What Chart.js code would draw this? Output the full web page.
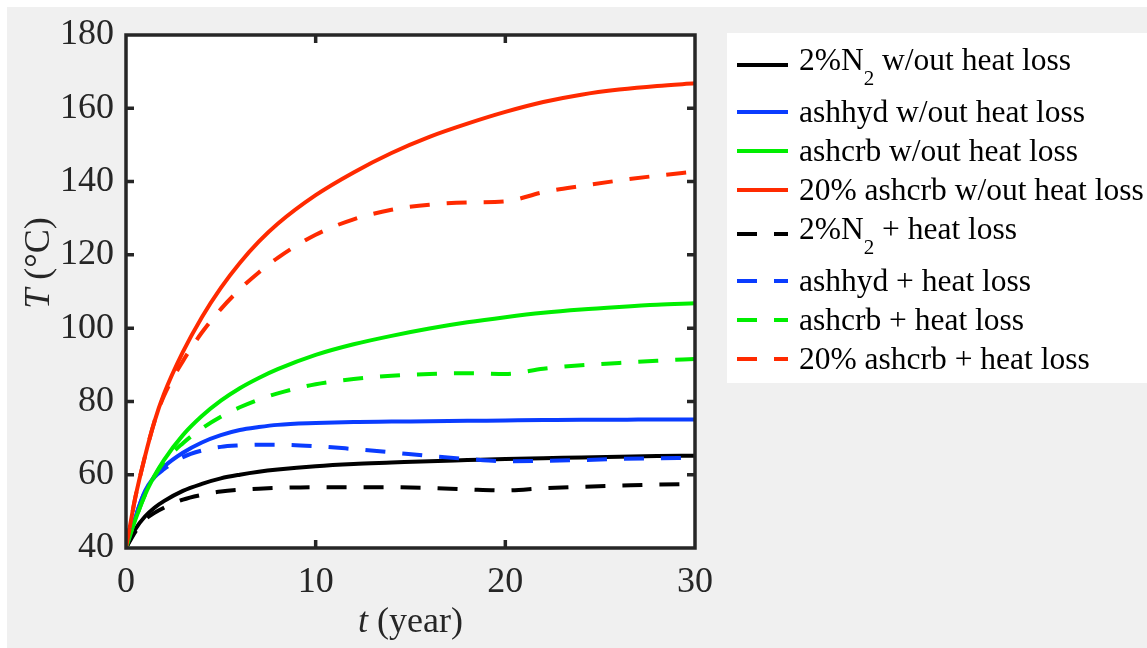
<!DOCTYPE html>
<html>
<head>
<meta charset="utf-8">
<title>Temperature history</title>
<script src="https://cdn.jsdelivr.net/npm/chart.js@4.4.1/dist/chart.umd.min.js"></script>
<style>
  html, body { margin: 0; padding: 0; background: #fff; }
  #wrap { width: 1147px; height: 648px; }
</style>
</head>
<body>
<div id="wrap"><canvas id="tempChart" width="1147" height="648"></canvas></div>
<script>
// time in years, temperatures in °C
var years = [0, 0.5, 1, 1.5, 2, 3, 4, 5, 6, 7, 8, 10, 12, 14, 16, 18, 20, 22, 24, 26, 28, 30];

var n2NoLoss       = [40, 45.2, 48.6, 51.0, 52.8, 55.6, 57.5, 59.0, 60.0, 60.8, 61.4, 62.3, 62.9, 63.3, 63.7, 64.0, 64.3, 64.5, 64.7, 64.9, 65.1, 65.2];
var ashhydNoLoss   = [40, 48.5, 55.5, 59.5, 62.2, 66.0, 68.8, 70.8, 72.2, 73.0, 73.6, 74.1, 74.4, 74.5, 74.6, 74.7, 74.8, 74.9, 75.0, 75.0, 75.1, 75.1];
var ashcrbNoLoss   = [40, 47.8, 54.5, 59.7, 64.0, 70.8, 76.0, 80.2, 83.6, 86.4, 88.8, 92.7, 95.6, 97.9, 99.9, 101.6, 103.0, 104.2, 105.1, 105.8, 106.4, 106.8];
var ashcrb20NoLoss = [40, 54, 65, 74.5, 82, 93.5, 103, 111, 117.8, 123.6, 128.5, 136.3, 142.5, 147.8, 152.2, 155.8, 159.0, 161.7, 163.7, 165.1, 166.1, 166.8];
var n2Loss         = [40, 44.5, 47.7, 49.6, 51.0, 53.2, 54.5, 55.4, 55.9, 56.2, 56.4, 56.6, 56.6, 56.6, 56.4, 56.0, 55.7, 56.3, 56.7, 57.0, 57.3, 57.5];
var ashhydLoss     = [40, 48.5, 55.3, 59.3, 61.5, 64.8, 66.6, 67.6, 68.0, 68.2, 68.2, 67.8, 67.0, 66.1, 65.1, 64.3, 63.7, 63.8, 64.0, 64.3, 64.5, 64.6];
var ashcrbLoss     = [40, 47.8, 54.5, 59.5, 63.5, 68.6, 72.6, 75.8, 78.4, 80.5, 82.2, 84.7, 86.1, 87.0, 87.5, 87.7, 87.5, 88.9, 89.9, 90.5, 91.1, 91.6];
var ashcrb20Loss   = [40, 54, 65, 74.5, 81.5, 91.0, 98.8, 105.2, 110.6, 115.2, 119.2, 125.5, 129.7, 132.3, 133.7, 134.3, 134.6, 137.1, 138.8, 140.3, 141.6, 142.7];

var seriesNames = [
  "2%N_2 w/out heat loss",
  "ashhyd w/out heat loss",
  "ashcrb w/out heat loss",
  "20% ashcrb w/out heat loss",
  "2%N_2 + heat loss",
  "ashhyd + heat loss",
  "ashcrb + heat loss",
  "20% ashcrb + heat loss"
];
var seriesValues = [n2NoLoss, ashhydNoLoss, ashcrbNoLoss, ashcrb20NoLoss, n2Loss, ashhydLoss, ashcrbLoss, ashcrb20Loss];

var xTitle = ["t", " (year)"];
var yTitle = ["T", " (°C)"];

var lineColors = ["#000000", "#0a3cff", "#00ee00", "#ff2a00"];
var dashPattern = [20, 17];
var axisColor = "#262626";
var serif = "'Liberation Serif', 'Times New Roman', serif";

Chart.defaults.font.family = serif;

var datasets = seriesValues.map(function(vals, i) {
  return {
    label: seriesNames[i],
    data: vals.map(function(v, j) { return { x: years[j], y: v }; }),
    borderColor: lineColors[i % 4],
    borderWidth: 4,
    borderDash: i >= 4 ? dashPattern : [],
    borderCapStyle: "butt",
    pointRadius: 0,
    cubicInterpolationMode: "monotone",
    fill: false,
    order: -i // later series sit on top
  };
});

// figure background, axes box with inward ticks, axis titles and legend
var figurePlugin = {
  id: "figure",
  beforeDraw: function(chart) {
    var ctx = chart.ctx, a = chart.chartArea;
    ctx.save();
    ctx.fillStyle = "#ffffff";
    ctx.fillRect(0, 0, chart.width, chart.height);
    ctx.fillStyle = "#f0f0f0";
    ctx.fillRect(7, 7, chart.width - 7, chart.height - 7);
    ctx.fillStyle = "#ffffff";
    ctx.fillRect(a.left, a.top, a.right - a.left, a.bottom - a.top);
    ctx.restore();
  },
  afterDatasetsDraw: function(chart) {
    var ctx = chart.ctx, a = chart.chartArea;
    var xs = chart.scales.x, ys = chart.scales.y;
    var tick = 8;
    ctx.save();
    ctx.strokeStyle = axisColor;
    ctx.lineWidth = 3.5;
    ctx.beginPath();
    xs.ticks.forEach(function(t) {
      if (t.value <= xs.min || t.value >= xs.max) return;
      var px = xs.getPixelForValue(t.value);
      ctx.moveTo(px, a.bottom); ctx.lineTo(px, a.bottom - tick);
      ctx.moveTo(px, a.top); ctx.lineTo(px, a.top + tick);
    });
    ys.ticks.forEach(function(t) {
      if (t.value <= ys.min || t.value >= ys.max) return;
      var py = ys.getPixelForValue(t.value);
      ctx.moveTo(a.left, py); ctx.lineTo(a.left + tick, py);
      ctx.moveTo(a.right, py); ctx.lineTo(a.right - tick, py);
    });
    ctx.stroke();
    ctx.lineJoin = "miter";
    ctx.strokeRect(a.left, a.top, a.right - a.left, a.bottom - a.top);
    ctx.restore();
  },
  afterDraw: function(chart) {
    var ctx = chart.ctx, a = chart.chartArea;
    ctx.save();
    ctx.fillStyle = axisColor;
    ctx.textBaseline = "alphabetic";
    ctx.textAlign = "left";

    // x title: italic symbol then plain units
    var italic = "italic 36px " + serif, plain = "36px " + serif;
    ctx.font = italic; var w0 = ctx.measureText(xTitle[0]).width;
    ctx.font = plain; var w1 = ctx.measureText(xTitle[1]).width;
    var x0 = (a.left + a.right) / 2 - (w0 + w1) / 2;
    ctx.font = italic; ctx.fillText(xTitle[0], x0, 632);
    ctx.font = plain; ctx.fillText(xTitle[1], x0 + w0, 632);

    // y title, rotated
    ctx.font = italic; w0 = ctx.measureText(yTitle[0]).width;
    ctx.font = plain; w1 = ctx.measureText(yTitle[1]).width;
    ctx.translate(49, 263);
    ctx.rotate(-Math.PI / 2);
    ctx.font = italic; ctx.fillText(yTitle[0], -(w0 + w1) / 2, 0);
    ctx.font = plain; ctx.fillText(yTitle[1], -(w0 + w1) / 2 + w0, 0);
    ctx.setTransform(1, 0, 0, 1, 0, 0);

    // legend
    ctx.fillStyle = "#ffffff";
    ctx.fillRect(727, 33, chart.width - 727, 350);
    var baseline = 70;
    chart.data.datasets.forEach(function(ds) {
      var hasSub = /_\d/.test(ds.label);
      var ly = hasSub ? baseline - 5 : baseline - 10;
      ctx.strokeStyle = ds.borderColor;
      ctx.lineWidth = 4;
      ctx.setLineDash(ds.borderDash || []);
      ctx.beginPath();
      ctx.moveTo(737, ly); ctx.lineTo(788, ly);
      ctx.stroke();
      ctx.setLineDash([]);

      ctx.fillStyle = "#000000";
      var parts = ds.label.split(/_(\d)/);
      var tx = 799;
      for (var k = 0; k < parts.length; k++) {
        var sub = k % 2 === 1;
        ctx.font = (sub ? "21px " : "31.5px ") + serif;
        ctx.fillText(parts[k], tx, sub ? baseline + 15 : baseline);
        tx += ctx.measureText(parts[k]).width;
      }
      baseline += hasSub ? 52 : 39;
    });
    ctx.restore();
  }
};

new Chart(document.getElementById("tempChart"), {
  type: "line",
  data: { datasets: datasets },
  options: {
    responsive: false,
    animation: false,
    devicePixelRatio: 1,
    layout: { padding: { top: 35, right: 452, left: 0, bottom: 0 } },
    plugins: {
      legend: { display: false },
      tooltip: { enabled: false }
    },
    scales: {
      x: {
        type: "linear",
        min: 0,
        max: 30,
        grid: { display: false, drawTicks: false },
        border: { display: false },
        ticks: {
          stepSize: 10,
          color: axisColor,
          padding: 13,
          font: { family: serif, size: 36 }
        },
        afterFit: function(s) { s.height = 100; }
      },
      y: {
        type: "linear",
        min: 40,
        max: 180,
        grid: { display: false, drawTicks: false },
        border: { display: false },
        ticks: {
          stepSize: 20,
          color: axisColor,
          padding: 12,
          font: { family: serif, size: 36 }
        },
        afterFit: function(s) { s.width = 126; }
      }
    }
  },
  plugins: [figurePlugin]
});
</script>
</body>
</html>
